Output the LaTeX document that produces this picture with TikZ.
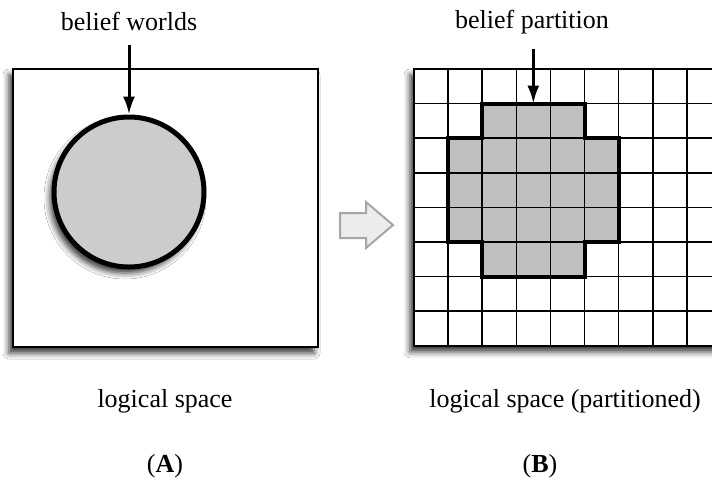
\documentclass[tikz,border=0pt]{standalone}
\usepackage{fontspec}
\setmainfont{Liberation Serif}
\usepackage{tikz}
\usetikzlibrary{arrows.meta, positioning, shadows.blur}

\begin{document}
\begin{tikzpicture}[x=0.5pt, y=-0.5pt,
	lbl/.style={anchor=base, font=\fontsize{13}{15}\selectfont},
	pointer/.style={-{Latex[length=9pt, width=6pt]}, line width=1.5pt},
	gridline/.style={line width=0.8pt},
	boxshadow/.style={blur shadow={shadow xshift=-2pt, shadow yshift=-3pt, shadow blur radius=3pt, shadow opacity=80}}]
	% Page and clip:
	\clip (0, 0) rectangle (712, 479);
	\fill[white] (0, 0) rectangle (712, 479);
	% Left panel, belief worlds:
	\node[draw, fill=white, line width=0.8pt, minimum width=152.5pt, minimum height=139pt, boxshadow](boxA) at (165.5, 208){};
	\node[circle, draw, line width=2.5pt, fill=gray!40, minimum size=75pt, boxshadow](worlds) at (129, 192){};
	\node[lbl](worldsLbl) at (129, 30){belief worlds};
	\draw[pointer] ([yshift=-4pt]worldsLbl.south -| worlds.north) -- (worlds.north);
	% Middle block arrow:
	\draw[fill=gray!15, draw=gray!70, line width=1pt] (340, 213) -- (366, 213) -- (366, 202) -- (393, 225) -- (366, 248) -- (366, 238) -- (340, 238) -- cycle;
	% Right panel, partitioned grid:
	\begin{scope}[xshift=207pt, yshift=-34.5pt, x=17.05pt, y=-17.3pt]
		\fill[white, boxshadow] (0, 0) rectangle (9.5, 8);
		\fill[gray!50] (2, 1) -- (5, 1) -- (5, 2) -- (6, 2) -- (6, 5) -- (5, 5) -- (5, 6) -- (2, 6) -- (2, 5) -- (1, 5) -- (1, 2) -- (2, 2) -- cycle;
		\foreach \c in {1,...,9}
			\draw[gridline] (\c, 0) -- (\c, 8);
		\foreach \r in {1,...,7}
			\draw[gridline] (0, \r) -- (9.5, \r);
		\draw[gridline] (0, 0) rectangle (9.5, 8);
		\draw[line width=2pt, line join=miter] (2, 1) -- (5, 1) -- (5, 2) -- (6, 2) -- (6, 5) -- (5, 5) -- (5, 6) -- (2, 6) -- (2, 5) -- (1, 5) -- (1, 2) -- (2, 2) -- cycle;
		\coordinate (partTop) at (3.5, 1);
	\end{scope}
	\node[lbl](partLbl) at (532, 28){belief partition};
	\draw[pointer] ([yshift=-4pt]partLbl.south -| partTop) -- (partTop);
	% Captions:
	\node[lbl](spaceA) at (165, 407){logical space};
	\node[lbl](spaceB) at (565, 407){logical space (partitioned)};
	\node[lbl](panelA) at (165, 472){(\textbf{A})};
	\node[lbl](panelB) at (540, 472){(\textbf{B})};
\end{tikzpicture}
\end{document}
